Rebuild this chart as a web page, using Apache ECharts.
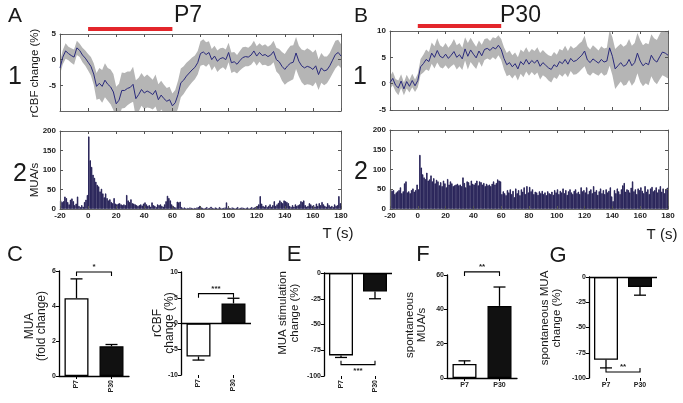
<!DOCTYPE html>
<html><head><meta charset="utf-8">
<script src="https://cdn.jsdelivr.net/npm/echarts@6/dist/echarts.min.js"></script>
<style>html,body{margin:0;padding:0;background:#fff}#c{width:683px;height:403px}</style>
</head><body><div id="c"></div>
<script>
// ---------- DATA ----------
// rCBF traces, sampled every 2 s from -20 to 180 s
const traceTimes = []; for (let t = -20; t <= 180; t += 2) traceTimes.push(t);
const p7RcbfMean = [-1.6,0.5,1.7,1.2,0.8,0.5,2.3,1.8,0.9,0.3,-0.5,
 -1.3,-2.8,-5.2,-4.6,-5.2,-4.0,-4.8,-5.3,-6.3,-8.6,
 -7.9,-6.0,-6.0,-5.6,-5.4,-4.8,-7.6,-6.8,-5.8,-6.5,
 -6.1,-6.4,-6.8,-6.0,-7.8,-6.9,-7.6,-8.1,-7.8,-9.0,
 -8.4,-6.8,-4.5,-4.0,-3.2,-2.6,-2.0,-1.5,-0.6,1.2,
 1.5,1.0,1.4,0.0,0.7,-0.3,0.2,0.4,0.0,1.4,
 -0.6,-0.4,-0.9,-0.2,0.4,0.6,0.5,0.9,1.7,0.7,
 1.4,0.8,1.0,0.6,0.9,1.6,0.0,-0.4,-1.3,-1.9,
 -1.2,-0.7,-0.5,1.3,-0.3,-1.2,-1.6,-1.3,-1.5,-1.9,
 -1.2,-2.9,-1.6,-2.2,-2.0,-1.2,-0.1,1.0,1.4,0.7];
const p7RcbfSem = [1.3,1.4,1.5,1.3,1.4,1.5,1.4,1.3,1.4,1.5,1.6,
 1.8,2.1,2.6,3.0,3.2,3.3,3.2,3.4,3.5,3.3,
 3.2,3.5,3.4,3.3,3.1,3.4,3.6,3.3,3.2,3.1,
 3.2,3.0,2.9,3.1,3.0,2.8,2.7,2.6,2.5,2.4,
 2.5,2.7,2.8,2.7,2.6,2.5,2.4,2.3,2.3,2.4,
 2.5,2.4,2.2,2.1,2.0,2.1,2.0,1.9,2.0,1.9,
 2.0,1.9,1.8,1.9,2.0,1.9,1.8,1.9,2.0,1.9,
 1.8,1.9,2.0,1.9,2.0,2.1,2.3,2.5,2.8,3.0,
 3.2,3.4,3.3,3.1,3.0,3.2,3.4,3.5,3.4,3.3,
 3.2,3.0,2.9,2.8,2.6,2.5,2.6,2.7,2.5,2.3];
const p30RcbfMean = [0.2,1.0,-0.3,-0.8,0.5,-1.0,0.4,-0.5,0.6,-0.4,0.6,
 3.2,3.8,4.6,4.2,5.8,5.0,6.3,5.2,4.9,5.6,
 4.8,5.4,6.1,5.0,5.5,4.7,6.6,5.2,6.4,5.6,
 4.9,6.2,5.3,6.5,6.7,6.3,6.9,6.6,7.3,6.5,
 4.8,3.6,4.0,3.2,3.8,2.8,4.2,3.6,4.6,3.7,
 4.4,3.9,4.5,3.3,4.0,3.5,3.0,2.7,3.6,3.2,
 4.2,3.8,4.6,3.7,4.8,4.2,4.4,4.9,5.4,6.2,
 4.5,4.0,4.7,4.3,3.9,4.6,4.1,4.3,6.8,5.2,
 2.8,3.4,4.0,3.3,3.6,4.6,3.4,4.0,5.8,4.3,
 3.4,3.9,3.6,5.4,4.5,4.1,5.1,6.0,5.8,5.4];
const p30RcbfSem = [1.2,1.3,1.2,1.4,1.3,1.2,1.3,1.2,1.3,1.2,1.3,
 1.5,1.7,1.9,1.8,2.0,2.1,2.3,2.1,2.0,2.1,
 2.0,2.1,2.4,2.3,2.2,2.1,2.2,2.5,2.3,2.2,
 2.1,2.0,2.1,2.0,1.9,1.8,1.9,2.0,1.9,2.0,
 2.1,2.2,2.3,2.2,2.1,2.2,2.3,2.4,2.3,2.2,
 2.2,2.3,2.4,2.5,2.4,2.3,2.4,2.5,2.4,2.3,
 2.4,2.5,2.6,2.5,2.4,2.5,2.6,2.7,2.6,2.9,
 2.6,2.5,2.6,2.5,2.4,2.5,2.6,2.5,3.4,3.6,
 3.8,3.7,3.6,3.7,3.8,3.9,3.8,3.7,3.8,4.0,
 3.9,3.8,3.9,4.0,4.1,4.2,4.3,4.4,4.5,4.4];
// MUA histograms, 1-s bins from -20 to 179 s
const binStarts = []; for (let t = -20; t < 180; t++) binStarts.push(t);
const p7Mua = [22,18,20,32,28,18,12,24,27,20, 10,14,32,8,5,10,6,18,24,36,
 186,125,108,88,80,70,62,58,45,52, 40,30,40,28,22,25,18,15,28,14,
 12,14,15,12,10,12,10,36,22,18, 25,15,14,12,10,8,10,12,9,14,
 17,12,8,10,6,17,10,8,5,12, 10,12,8,6,12,20,34,28,22,12,
 8,5,4,19,17,19,5,3,4,2, 3,2,4,3,2,3,2,4,5,8,
 4,3,2,3,5,2,3,6,3,2, 4,3,2,5,3,2,3,4,17,3,
 3,2,4,3,2,3,5,2,3,4, 3,2,3,4,2,3,5,3,4,6,
 8,12,33,14,8,6,10,5,8,12, 6,10,20,8,12,16,22,18,15,22,
 20,18,15,8,5,10,6,12,8,10, 12,20,18,22,10,6,8,15,12,8,
 10,6,14,8,15,10,18,12,8,6, 15,10,6,8,5,12,8,10,33,15];
const p30Mua = [50,46,48,38,42,45,48,55,40,45, 65,70,42,45,40,48,52,44,48,62,
 50,137,105,88,80,76,92,72,75,85, 70,78,65,74,70,60,68,58,72,65,
 55,76,62,70,65,58,60,62,64,60, 62,58,80,66,55,70,68,60,72,64,
 62,66,72,60,70,68,62,66,58,64, 60,62,58,64,70,62,66,75,72,70,
 38,45,40,35,48,42,50,38,46,30, 52,40,48,35,50,44,55,38,58,42,
 56,45,50,38,44,42,36,45,40,46, 38,42,35,45,40,38,44,36,48,42,
 50,38,46,42,52,40,48,36,45,50, 42,38,46,50,40,44,38,55,45,48,
 42,55,38,46,50,40,58,44,48,36, 45,52,40,48,38,50,42,46,55,32,
 20,48,40,52,45,38,50,60,66,44, 50,48,42,54,70,45,50,38,52,48,
 55,46,40,58,44,50,38,52,56,45, 48,55,42,50,58,44,52,40,50,54];
const stimWindow = [0, 60];
// Group summaries (mean, error)
const groups = ['P7', 'P30'];
const cMean = [4.45, 1.70],  cErr = [1.1, 0.1];
const dMean = [-6.4, 3.9],   dErr = [0.7, 1.0];
const eMean = [-80, -18],    eErr = [2, 7];
const fMean = [8.2, 42],     fErr = [1.8, 11];
const gMean = [-82, -10],    gErr = [8, 8];

// ---------- BUILD ----------
const FONT = "'Liberation Sans', Arial, sans-serif";
const grid = [], xAxis = [], yAxis = [], series = [], graphic = [];
function addGrid(l, t, w, h) { grid.push({left: l, top: t, width: w, height: h}); return grid.length - 1; }
function addX(o) { xAxis.push(o); return xAxis.length - 1; }
function addY(o) { yAxis.push(o); return yAxis.length - 1; }
const tickLbl = {fontFamily: FONT, fontSize: 8, fontWeight: 'bold', color: '#222'};
const botLbl = {fontFamily: FONT, fontSize: 7, fontWeight: 'bold', color: '#222'};

function tracePanel(l, t, w, h, ymin, ymax, yint, xLabels, hideMin) {
  const g = addGrid(l, t, w, h);
  const tick = {show: true, inside: true, length: 3, lineStyle: {color: '#555', width: 1}};
  const line = {show: true, onZero: false, lineStyle: {color: '#666', width: 1}};
  const xb = addX({type: 'value', gridIndex: g, position: 'bottom', min: -20, max: 180, interval: 20,
    axisLine: line, axisTick: tick, splitLine: {show: false}, z: 3,
    axisLabel: xLabels ? Object.assign({margin: 3}, tickLbl) : {show: false}});
  addX({type: 'value', gridIndex: g, position: 'top', min: -20, max: 180, interval: 20, z: 3,
    axisLine: line, axisTick: tick, splitLine: {show: false}, axisLabel: {show: false}});
  const yl = addY({type: 'value', gridIndex: g, position: 'left', min: ymin, max: ymax, interval: yint,
    axisLine: line, axisTick: tick, splitLine: {show: false}, z: 3,
    axisLabel: Object.assign({margin: 4, showMinLabel: !hideMin}, tickLbl)});
  addY({type: 'value', gridIndex: g, position: 'right', min: ymin, max: ymax, interval: yint, z: 3,
    axisLine: line, axisTick: tick, splitLine: {show: false}, axisLabel: {show: false}});
  return {g, xb, yl};
}

function addTrace(p, mean, sem) {
  // shaded mean +/- sem band drawn as one polygon through the axis scales
  series.push({type: 'custom', xAxisIndex: p.xb, yAxisIndex: p.yl, clip: true, silent: true,
    data: traceTimes.map((t, i) => [t, mean[i] - sem[i], mean[i] + sem[i]]),
    encode: {x: 0, y: [1, 2]},
    renderItem: (params, api) => {
      if (params.dataIndex !== 0) return null;
      const up = traceTimes.map((t, i) => api.coord([t, mean[i] + sem[i]]));
      const lo = traceTimes.map((t, i) => api.coord([t, mean[i] - sem[i]])).reverse();
      return {type: 'polygon', shape: {points: up.concat(lo)}, style: {fill: '#b5b5b5', stroke: null}};
    }});
  series.push({type: 'line', xAxisIndex: p.xb, yAxisIndex: p.yl, data: traceTimes.map((t, i) => [t, mean[i]]),
    symbol: 'none', lineStyle: {color: '#2a2a7c', width: 1}, z: 3});
}

function addHist(p, vals) {
  const xc = addX({type: 'category', gridIndex: p.g, data: binStarts, show: false, boundaryGap: true});
  series.push({type: 'bar', xAxisIndex: xc, yAxisIndex: p.yl, data: vals, barCategoryGap: '0%',
    itemStyle: {color: '#1e1950', borderColor: '#1e1950', borderWidth: 0.8}});
}

function addStim(l, t, w) {
  const g = addGrid(l, t, w, 4);
  const xi = addX({type: 'value', gridIndex: g, min: -20, max: 180, show: false});
  const yi = addY({type: 'value', gridIndex: g, min: -1, max: 1, show: false});
  series.push({type: 'line', xAxisIndex: xi, yAxisIndex: yi, data: stimWindow.map(s => [s, 0]),
    symbol: 'none', lineStyle: {color: '#e3262b', width: 4, cap: 'butt'}});
}

function barPanel(l, t, w, h, ymin, ymax, yint, mean, err, rot, bottomLine, zeroLine, br) {
  const g = addGrid(l, t, w, h);
  const xi = addX({type: 'category', gridIndex: g, data: groups, position: 'bottom',
    axisLine: {show: bottomLine, onZero: false, lineStyle: {color: '#000', width: 1.3}},
    axisTick: {show: true, alignWithLabel: true, length: 3, lineStyle: {color: '#000', width: 1}},
    axisLabel: Object.assign({rotate: rot ? 90 : 0, margin: 4}, botLbl)});
  const yi = addY({type: 'value', gridIndex: g, min: ymin, max: ymax, interval: yint,
    axisLine: {show: true, onZero: false, lineStyle: {color: '#000', width: 1.3}},
    axisTick: {show: true, length: 3, lineStyle: {color: '#000', width: 1}},
    axisLabel: Object.assign({margin: 3}, botLbl), splitLine: {show: false}});
  const bs = {type: 'bar', xAxisIndex: xi, yAxisIndex: yi, barWidth: 24,
    data: mean.map((v, i) => ({value: v, itemStyle: {color: i === 0 ? '#fff' : '#111', borderColor: '#000', borderWidth: 1.3}}))};
  if (zeroLine) bs.markLine = {silent: true, symbol: ['none', 'none'], label: {show: false}, animation: false,
    lineStyle: {color: '#000', width: 1.3, type: 'solid'}, data: [{yAxis: 0}]};
  series.push(bs);
  series.push({type: 'custom', xAxisIndex: xi, yAxisIndex: yi, z: 5,
    data: mean.map((v, i) => [i, v, v + (v < 0 ? -err[i] : err[i])]),
    encode: {x: 0, y: [1, 2]},
    renderItem: (params, api) => {
      const p0 = api.coord([api.value(0), api.value(1)]), p1 = api.coord([api.value(0), api.value(2)]);
      const s = {stroke: '#000', lineWidth: 1.3};
      return {type: 'group', children: [
        {type: 'line', shape: {x1: p0[0], y1: p0[1], x2: p1[0], y2: p1[1]}, style: s},
        {type: 'line', shape: {x1: p1[0] - 6, y1: p1[1], x2: p1[0] + 6, y2: p1[1]}, style: s}]};
    }});
  series.push({type: 'custom', xAxisIndex: xi, yAxisIndex: yi, z: 5,
    data: [[0, 1, br.y]], encode: {x: [0, 1], y: 2},
    renderItem: (params, api) => {
      const a = api.coord([api.value(0), api.value(2)]), b = api.coord([api.value(1), api.value(2)]);
      const d = br.down ? 4 : -4;
      const s = {stroke: '#000', lineWidth: 1.1, fill: null};
      return {type: 'group', children: [
        {type: 'polyline', shape: {points: [[a[0], a[1] + d], [a[0], a[1]], [b[0], b[1]], [b[0], b[1] + d]]}, style: s},
        {type: 'text', style: {text: br.label, x: (a[0] + b[0]) / 2, y: a[1] + (br.below ? 2 : -1),
          align: 'center', verticalAlign: br.below ? 'top' : 'bottom', font: 'bold 8px ' + FONT, fill: '#222'}}]};
    }});
}

// Top panels
const pA1 = tracePanel(60, 34, 281, 77, -10, 5, 5, false, true);
addTrace(pA1, p7RcbfMean, p7RcbfSem);
const pA2 = tracePanel(60, 131, 281, 78, 0, 200, 50, true, false);
addHist(pA2, p7Mua);
const pB1 = tracePanel(390, 31, 278, 79, -5, 10, 5, false, false);
addTrace(pB1, p30RcbfMean, p30RcbfSem);
const pB2 = tracePanel(390, 130, 278, 79, 0, 200, 50, true, false);
addHist(pB2, p30Mua);
addStim(60, 27, 281);
addStim(390, 24, 278);

// Bottom summary panels
barPanel(59, 271, 70, 105, 0, 6, 2, cMean, cErr, true, true, false, {y: 5.94, down: true, label: '*'});
barPanel(181, 272, 70, 103, -10, 10, 5, dMean, dErr, true, false, true, {y: 5.8, down: true, label: '***'});
barPanel(324, 273, 68, 103, -100, 0, 25, eMean, eErr, true, false, true, {y: -89, down: false, label: '***', below: true});
barPanel(447, 275, 70, 103, 0, 60, 20, fMean, fErr, false, true, false, {y: 61.8, down: true, label: '**'});
barPanel(589, 277, 68, 101, -100, 0, 25, gMean, gErr, false, false, true, {y: -94, down: false, label: '**'});

// Text
function txt(text, x, y, size, opts) {
  opts = opts || {};
  graphic.push({type: 'text', x: x, y: y, rotation: opts.rot ? Math.PI / 2 : 0, silent: true,
    style: {text: text, font: (opts.weight || 'normal') + ' ' + size + 'px ' + FONT, fill: '#1a1a1a',
      align: opts.align || 'center', verticalAlign: 'middle', lineHeight: opts.lh || size * 1.1}});
}
txt('A', 15, 16, 21); txt('B', 361, 16, 21);
txt('P7', 174, 16, 23, {align: 'left'}); txt('P30', 500, 16, 23, {align: 'left'});
txt('1', 15, 77, 25); txt('1', 360, 77, 25);
txt('2', 20, 174, 25); txt('2', 361, 172, 25);
txt('rCBF change (%)', 35, 73, 11.5, {rot: true});
txt('MUA/s', 35, 180, 11.5, {rot: true});
txt('T (s)', 338, 234, 15); txt('T (s)', 662, 235, 15);
txt('C', 15, 255, 22); txt('D', 166, 255, 22); txt('E', 294, 255, 22); txt('F', 423, 255, 22); txt('G', 558, 256, 22);
txt('MUA\n(fold change)', 36, 326, 12, {rot: true, lh: 12});
txt('rCBF\nchange (%)', 164, 323, 12, {rot: true, lh: 12});
txt('MUA stimulation\nchange (%)', 289, 313, 11.5, {rot: true, lh: 12});
txt('spontaneous\nMUA/s', 416, 325, 11.5, {rot: true, lh: 12});
txt('spontaneous MUA\nchange (%)', 551, 318, 11.5, {rot: true, lh: 12});

const chart = echarts.init(document.getElementById('c'), null, {renderer: 'canvas'});
chart.setOption({animation: false, backgroundColor: '#fff', grid, xAxis, yAxis, series, graphic});
</script></body></html>
